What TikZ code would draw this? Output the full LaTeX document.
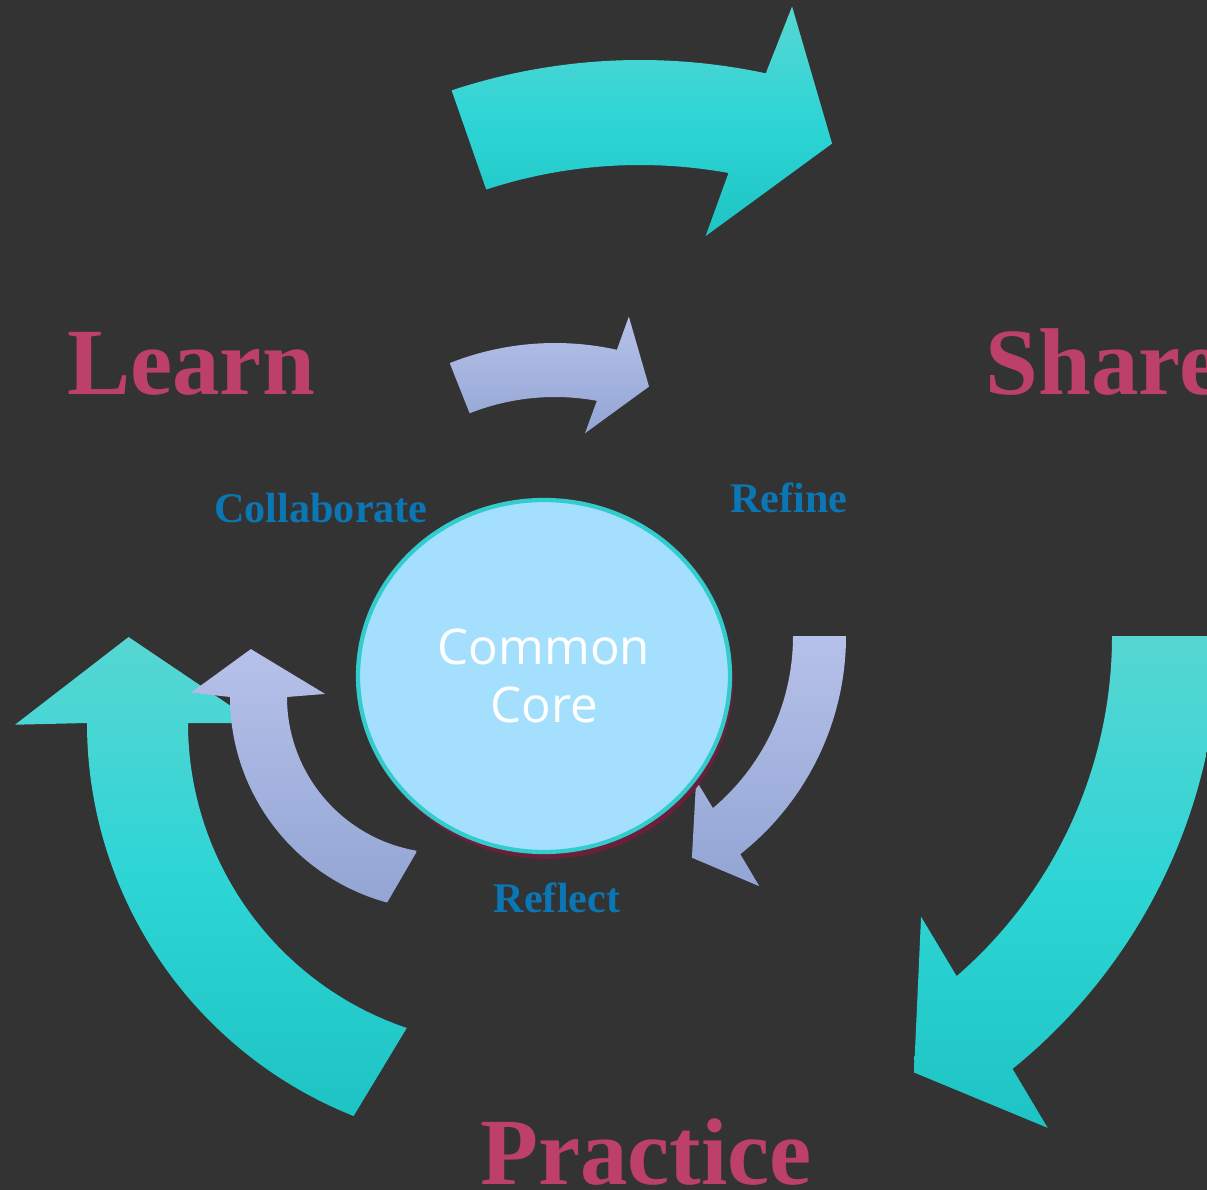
\documentclass[tikz,border=0pt]{standalone}
\usepackage{fontspec}
\setmainfont{Liberation Serif}
\setsansfont{Open Sans}
\usetikzlibrary{positioning}
\usetikzlibrary{shapes.geometric}

\definecolor{bgdark}{HTML}{333333}
\definecolor{tealtop}{HTML}{57D6D3}
\definecolor{tealmid}{HTML}{2ED5D5}
\definecolor{tealbot}{HTML}{1EC4C4}
\definecolor{lavtop}{HTML}{B6C1E9}
\definecolor{lavbot}{HTML}{93A5D4}
\definecolor{stagepink}{HTML}{BC406A}
\definecolor{phaseblue}{HTML}{0B76B4}
\definecolor{corefill}{HTML}{A4E0FE}
\definecolor{coreline}{HTML}{33CCCC}
\definecolor{coreshadow}{HTML}{6A1F3B}

\begin{document}
\begin{tikzpicture}[font=\bfseries]
					\tikzstyle{big arrow}=[top color=tealtop, bottom color=tealbot, middle color=tealmid]
					\tikzstyle{small arrow}=[top color=lavtop, bottom color=lavbot]
					\tikzstyle{stage}=[text=stagepink, font=\fontsize{27}{32}\selectfont\bfseries]
					\tikzstyle{phase label}=[text=phaseblue, font=\fontsize{12}{14}\selectfont\bfseries]
					
					\fill[bgdark] (0,0) rectangle (12.07,-11.90);
					\useasboundingbox (0,0) rectangle (12.07,-11.90);
					
					% outer cycle
					\shade[big arrow, shift={(6.40,-6.60)}] (108.3:6.0) arc[start angle=108.3, end angle=77.9, radius=6.0]
					-- (76.9:6.71) -- (69.6:5.51) -- (81.2:4.29) -- (79.7:4.95)
					arc[start angle=79.7, end angle=108.1, radius=4.95] -- cycle;
					\shade[big arrow, shift={(6.62,-6.36)}] (0:4.50) -- (0:5.57) arc[start angle=0, end angle=-51.0, radius=5.57]
					-- (-51.9:6.25) -- (-60.0:5.04) -- (-47.3:3.82) -- (-49.1:4.50)
					arc[start angle=-49.1, end angle=0, radius=4.50] -- cycle;
					\shade[big arrow, shift={(5.10,-7.23)}] (251.3:3.22) -- (248.3:4.23) arc[start angle=248.3, end angle=180, radius=4.23]
					-- (180.2:4.95) -- (167.3:3.91) -- (180:2.54) -- (180:3.22)
					arc[start angle=180, end angle=251.3, radius=3.22] -- cycle;
					
					% inner cycle
					\shade[small arrow, shift={(5.55,-6.29)}] (111.6:2.86) arc[start angle=111.6, end angle=77.5, radius=2.86]
					-- (76.7:3.21) -- (68.8:2.60) -- (81.3:1.98) -- (79.6:2.32)
					arc[start angle=79.6, end angle=111.6, radius=2.32] -- cycle;
					\shade[small arrow, shift={(5.68,-6.36)}] (0:2.25) -- (0:2.78) arc[start angle=0, end angle=-51.7, radius=2.78]
					-- (-52.6:3.15) -- (-60.8:2.54) -- (-48.4:1.93) -- (-49.9:2.25)
					arc[start angle=-49.9, end angle=0, radius=2.25] -- cycle;
					\shade[small arrow, shift={(4.43,-6.97)}] (260.2:1.58) -- (254.8:2.13) arc[start angle=254.8, end angle=180, radius=2.13]
					-- (179:2.52) -- (166:1.98) -- (178.5:1.18) -- (180:1.56)
					arc[start angle=180, end angle=260.2, radius=1.56] -- cycle;
					
					\fill[coreshadow] (5.47,-6.83) ellipse [x radius=1.86, y radius=1.76];
					\node[ellipse, fill=corefill, draw=coreline, line width=1.2pt, minimum width=3.72cm, minimum height=3.52cm,
					inner sep=0pt, text=white, align=center, font=\sffamily\fontsize{14}{16.5}\selectfont] (core) at (5.44,-6.76) {Common\\Core};
					
					\node[stage, anchor=base]              (Learn)       at (1.91,-3.95)  {Learn};
					\node[stage, anchor=base west, inner sep=0pt] (Share) at (9.85,-3.95)  {Share};
					\node[stage, anchor=base]              (Practice)    at (6.46,-11.84) {Practice};
					\node[phase label, anchor=base]        (Collaborate) at (3.21,-5.23)  {Collaborate};
					\node[phase label, anchor=base]        (Refine)      at (7.89,-5.13)  {Refine};
					\node[phase label, anchor=base]        (Reflect)     at (5.57,-9.12)  {Reflect};
\end{tikzpicture}
\end{document}
